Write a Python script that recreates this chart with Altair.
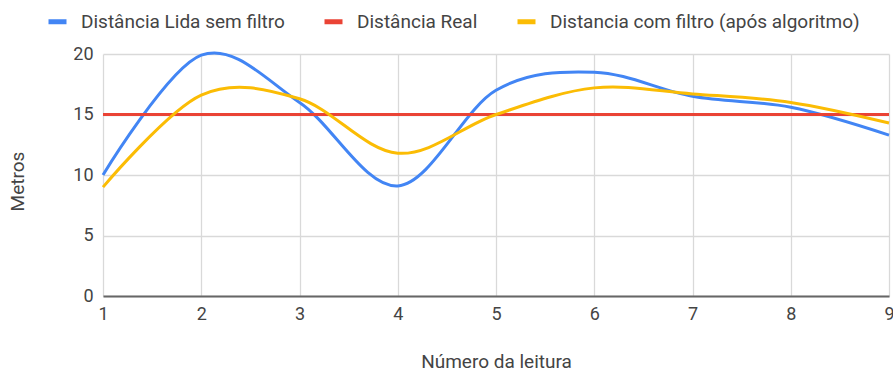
import altair as alt
import pandas as pd

# Readings (x) and measured distances per series
leituras = [1, 2, 3, 4, 5, 6, 7, 8, 9]
sem_filtro = [10.0, 19.9, 16.0, 9.1, 17.0, 18.5, 16.5, 15.6, 13.3]
real = [15, 15, 15, 15, 15, 15, 15, 15, 15]
com_filtro = [9.0, 16.6, 16.3, 11.8, 15.0, 17.2, 16.7, 16.0, 14.3]

series = [
    "Distância Lida sem filtro",
    "Distância Real",
    "Distancia com filtro (após algoritmo)",
]
colors = ["#4285F4", "#EA4335", "#FBBC04"]

rows = []
for name, values in zip(series, [sem_filtro, real, com_filtro]):
    for x, v in zip(leituras, values):
        rows.append({"leitura": x, "metros": v, "serie": name})
df = pd.DataFrame(rows)

FONT = "Roboto"

chart = (
    alt.Chart(df)
    .mark_line(interpolate="cardinal", strokeWidth=3)
    .encode(
        x=alt.X(
            "leitura:Q",
            scale=alt.Scale(domain=[1, 9], nice=False, zero=False),
            axis=alt.Axis(
                values=leituras,
                title="Número da leitura",
                format="d",
                labelFlush=False,
                ticks=False,
                labelPadding=9,
                domainColor="#666666",
                domainWidth=2,
                titleY=71,
                titleBaseline="alphabetic",
            ),
        ),
        y=alt.Y(
            "metros:Q",
            scale=alt.Scale(domain=[0, 20], nice=False),
            axis=alt.Axis(
                values=[0, 5, 10, 15, 20],
                title="Metros",
                ticks=False,
                domain=False,
                labelPadding=10,
                titleX=-76,
                titleY=127,
            ),
        ),
        color=alt.Color(
            "serie:N",
            scale=alt.Scale(domain=series, range=colors),
            legend=alt.Legend(
                title=None,
                orient="none",
                direction="horizontal",
                legendX=-57,
                legendY=-44,
                symbolType="stroke",
                symbolSize=324,
                symbolStrokeWidth=5,
                labelOffset=12,
                labelLimit=500,
                columnPadding=29,
                labelFontSize=19,
                labelFont=FONT,
                labelColor="#444444",
            ),
        ),
    )
    .properties(
        width=786,
        height=242,
        autosize=alt.AutoSizeParams(type="none"),
        padding={"left": 103, "top": 54, "right": 4, "bottom": 77},
    )
    .configure_axis(
        gridColor="#d9d9d9",
        gridWidth=1.3,
        labelFont=FONT,
        labelFontSize=18,
        labelColor="#444444",
        titleFont=FONT,
        titleFontSize=19,
        titleFontWeight="normal",
        titleColor="#444444",
    )
    .configure_view(stroke=None)
)

chart.save("out.html", embed_options={"renderer": "svg", "actions": False})
